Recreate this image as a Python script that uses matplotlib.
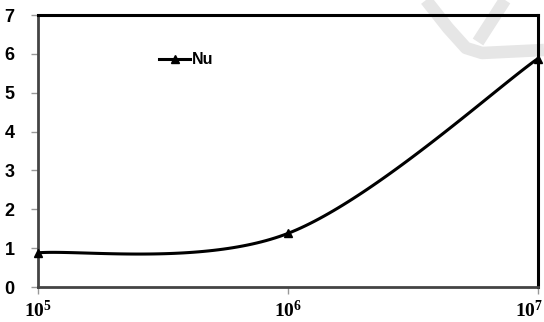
import matplotlib.pyplot as plt
import matplotlib.transforms as mtransforms
import numpy as np
from matplotlib.lines import Line2D

# data
ra = [1e5, 1e6, 1e7]
nu = [0.88, 1.38, 5.88]
x_ticks = [1e5, 1e6, 1e7]
x_labels = [r'$\mathbf{10^{5}}$', r'$\mathbf{10^{6}}$', r'$\mathbf{10^{7}}$']
y_ticks = [0, 1, 2, 3, 4, 5, 6, 7]

plt.rcParams['mathtext.fontset'] = 'custom'
plt.rcParams['mathtext.bf'] = 'Liberation Serif:bold'
plt.rcParams['mathtext.rm'] = 'Liberation Serif'


def excel_smooth(xs, ys, sx, sy, n=60):
    # excel-style smoothed line (bezier through points), done in screen-ish units
    px = np.log10(xs) * sx
    py = np.array(ys) * sy
    pts = np.column_stack([px, py])
    pts = np.vstack([pts[0], pts, pts[-1]])
    out = []
    t = np.linspace(0, 1, n)[:, None]
    for i in range(1, len(pts) - 2):
        p0, p1 = pts[i], pts[i + 1]
        c1 = p0 + (pts[i + 1] - pts[i - 1]) / 6
        c2 = p1 - (pts[i + 2] - pts[i]) / 6
        seg = (1 - t) ** 3 * p0 + 3 * (1 - t) ** 2 * t * c1 + 3 * (1 - t) * t ** 2 * c2 + t ** 3 * p1
        out.append(seg)
    out = np.vstack(out)
    return 10 ** (out[:, 0] / sx), out[:, 1] / sy


fig = plt.figure(figsize=(5.44, 3.22), dpi=100)
ax = fig.add_axes([38 / 544, 35 / 322, 500 / 544, 272 / 322])
ax.patch.set_alpha(0)

# faint watermark behind the chart (pixel coords from top-left)
wm = dict(color='#e6e6e6', lw=9, solid_capstyle='butt', zorder=0)
W, H = 544, 322
def wline(px, py):
    fig.add_artist(Line2D(np.array(px) / W, 1 - np.array(py) / H,
                          transform=fig.transFigure, **wm))
wline([426, 448, 466, 482, 544], [0, 28, 48, 53, 50])
wline([505, 478], [0, 42])

sx, sy = 250.0, 272 / 7
cx, cy = excel_smooth(ra, nu, sx, sy)
ax.plot(cx, cy, color='black', lw=2.2, zorder=3)
ax.plot(ra, nu, linestyle='none', marker='^', color='black', ms=6, zorder=4, clip_on=False)

ax.set_xscale('log')
ax.set_xlim(1e5, 1e7)
ax.set_ylim(0, 7)
ax.set_xticks(x_ticks)
ax.set_xticklabels(x_labels, fontsize=14)
ax.minorticks_off()
ax.set_yticks(y_ticks)
ax.set_yticklabels([str(v) for v in y_ticks], fontsize=13, fontweight='bold',
                   family='Liberation Sans')
ax.tick_params(axis='both', direction='out', length=5, color='#999999', width=1)
ax.tick_params(axis='x', pad=4)
ax.tick_params(axis='y', pad=12)
last = ax.get_xticklabels()[-1]
last.set_transform(last.get_transform() +
                   mtransforms.ScaledTranslation(-9 / 100, 0, fig.dpi_scale_trans))

for s in ['top', 'right']:
    ax.spines[s].set_color('black')
    ax.spines[s].set_linewidth(2.2)
for s in ['left', 'bottom']:
    ax.spines[s].set_color('#444444')
    ax.spines[s].set_linewidth(2)

handle = Line2D([], [], color='black', lw=2.2, marker='^', ms=6)
ax.legend([handle], ['Nu'], loc='center left', bbox_to_anchor=(0.226, 0.835),
          frameon=False, handlelength=1.95, handletextpad=0.1, borderpad=0,
          prop={'family': 'Liberation Sans', 'weight': 'bold', 'size': 11.5})

fig.savefig('out.png', dpi=100)
